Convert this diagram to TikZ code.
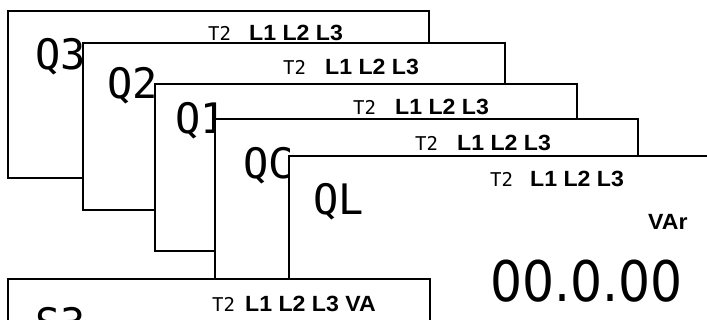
\documentclass[tikz,border=0pt]{standalone}
\usepackage{fontspec}
\setmainfont{Liberation Sans}
\newfontfamily\lcdfont{DejaVu Sans Mono}
\newfontfamily\bigfont[FakeStretch=0.9]{DejaVu Sans}
\newfontfamily\tagfont[FakeStretch=1.05]{Liberation Sans}

\tikzset{
  panel/.style={draw, line width=1.6pt, fill=white},
  quad/.style={font=\lcdfont\fontsize{42}{42}\selectfont, inner sep=0pt, anchor=base west},
  tariff/.style={font=\lcdfont\fontsize{19}{19}\selectfont, inner sep=0pt, anchor=base west},
  phases/.style={font=\tagfont\bfseries\fontsize{22}{22}\selectfont, inner sep=0pt, anchor=base west},
  reading/.style={font=\bigfont\fontsize{56}{56}\selectfont, inner sep=0pt, anchor=base west},
}

\begin{document}
\begin{tikzpicture}[x=1pt,y=-1pt]
    \useasboundingbox (0,0) rectangle (707,320);
    \clip (0,0) rectangle (707,320);

    % Q3
    \draw[panel] (8,11) rectangle (429,178);
    \node[quad] (q3) at (35,70) {Q3};
    \node[tariff] (t2a) at (208,41) {T2};
    \node[phases] (la) at (249,41) {L1 L2 L3};

    % Q2
    \draw[panel] (83,43) rectangle (505,210);
    \node[quad] (q2) at (107,99) {Q2};
    \node[tariff] (t2b) at (283,75) {T2};
    \node[phases] (lb) at (325,75) {L1 L2 L3};

    % Q1
    \draw[panel] (155,84) rectangle (577,251);
    \node[quad] (q1) at (175,134) {Q1};
    \node[tariff] (t2c) at (353,115) {T2};
    \node[phases] (lc) at (395,115) {L1 L2 L3};

    % QC
    \draw[panel] (215,119) rectangle (638,290);
    \node[quad] (qc) at (243,179) {QC};
    \node[tariff] (t2d) at (415,151) {T2};
    \node[phases] (ld) at (457,151) {L1 L2 L3};

    % QL
    \draw[panel] (289,156) rectangle (720,330);
    \node[quad] (ql) at (313,215) {QL};
    \node[tariff] (t2e) at (490,187) {T2};
    \node[phases] (le) at (530,187) {L1 L2 L3};
    \node[phases] (var) at (648,230) {VAr};
    \node[reading] (val) at (490,302) {00.0.00};

    % S3 (unten abgeschnitten)
    \draw[panel] (8,279) rectangle (430,340);
    \node[quad] (s3) at (35,338) {S3};
    \node[tariff] (t2f) at (212,312) {T2};
    \node[phases] (lf) at (245,312) {L1 L2 L3 VA};
\end{tikzpicture}
\end{document}
